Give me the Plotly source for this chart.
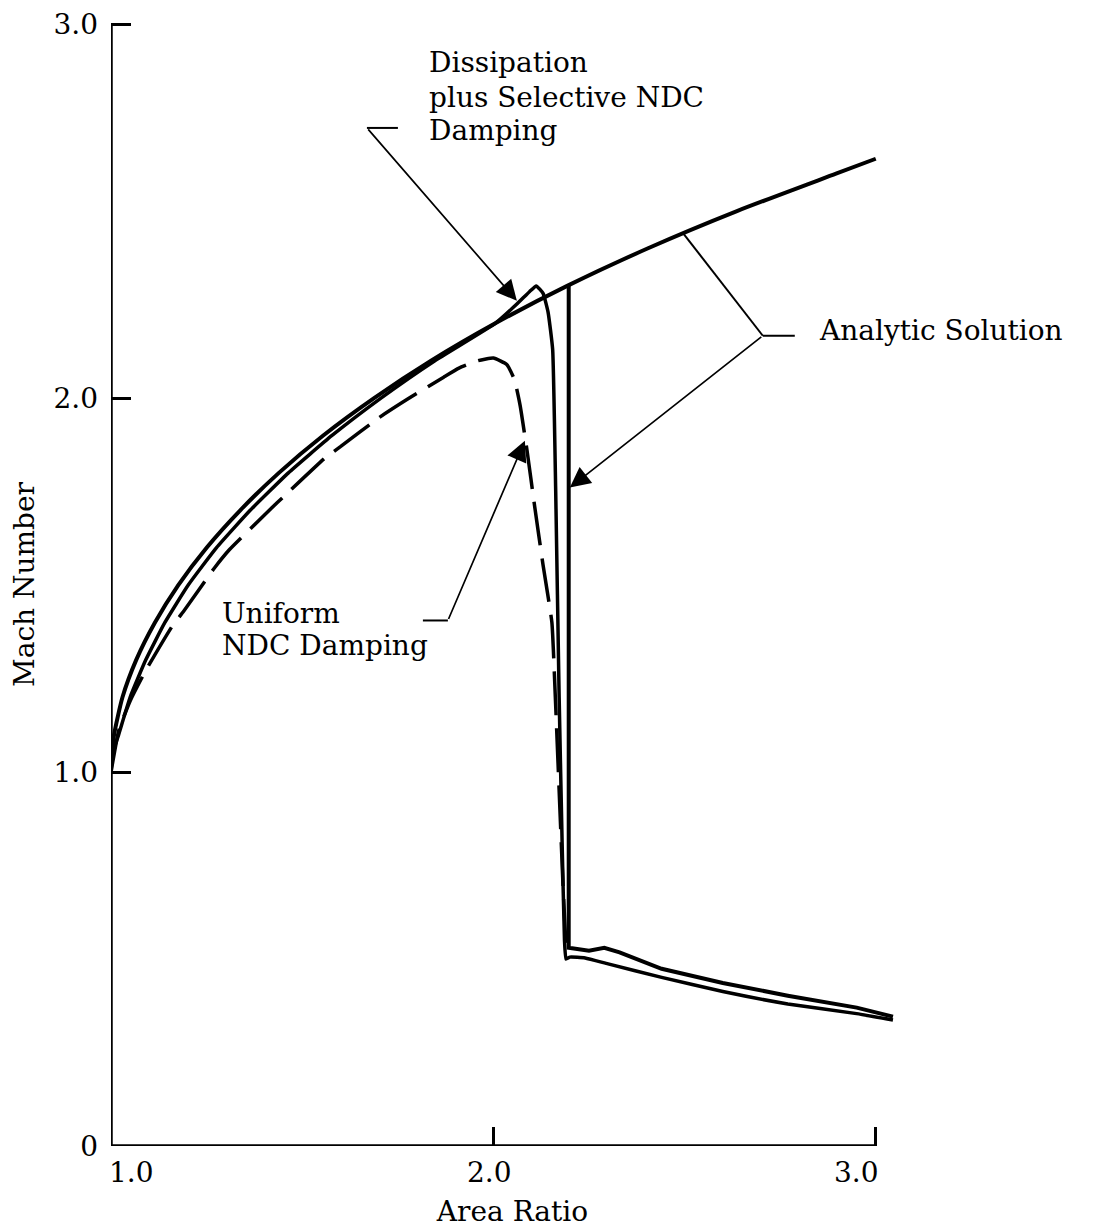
import plotly.graph_objects as go

# ---- data ----
# Analytic solution, supersonic branch
ana_x = [1.0, 1.002, 1.008, 1.03, 1.066, 1.115, 1.176, 1.25, 1.338, 1.439, 1.555, 1.688, 1.837, 2.005, 2.193, 2.403, 2.637, 2.896, 3.0]
ana_m = [1.0, 1.05, 1.1, 1.2, 1.3, 1.4, 1.5, 1.6, 1.7, 1.8, 1.9, 2.0, 2.1, 2.2, 2.3, 2.4, 2.5, 2.6, 2.64]

# Analytic solution, shock + subsonic branch
shk_x = [2.197, 2.197, 2.25, 2.29, 2.33, 2.44, 2.60, 2.77, 2.95, 3.045]
shk_m = [2.30, 0.53, 0.522, 0.53, 0.518, 0.474, 0.436, 0.402, 0.37, 0.346]

# Dissipation plus selective NDC damping
dis_x = [1.0, 1.004, 1.02, 1.05, 1.091, 1.141, 1.202, 1.276, 1.364, 1.464, 1.578, 1.706, 1.847, 2.005,
         2.06, 2.095, 2.112, 2.13, 2.143, 2.155, 2.163, 2.172, 2.18, 2.186, 2.19, 2.20, 2.24, 2.30,
         2.44, 2.60, 2.77, 2.95, 3.045]
dis_m = [1.0, 1.05, 1.1, 1.2, 1.3, 1.4, 1.5, 1.6, 1.7, 1.8, 1.9, 2.0, 2.1, 2.2,
         2.25, 2.285, 2.30, 2.28, 2.23, 2.13, 1.75, 1.20, 0.80, 0.55, 0.50, 0.505, 0.503, 0.487,
         0.451, 0.413, 0.380, 0.354, 0.337]

# Uniform NDC damping (dashed)
uni_x = [1.0, 1.02, 1.05, 1.09, 1.16, 1.19, 1.27, 1.31, 1.42, 1.45, 1.56, 1.60, 1.70, 1.78, 1.87,
         1.91, 1.96, 2.00, 2.035, 2.055, 2.07, 2.088, 2.108, 2.13, 2.153, 2.162, 2.172, 2.182, 2.19]
uni_m = [1.0, 1.11, 1.19, 1.27, 1.39, 1.43, 1.545, 1.595, 1.706, 1.735, 1.84, 1.87, 1.947, 2.0, 2.056,
         2.08, 2.10, 2.107, 2.09, 2.05, 1.98, 1.86, 1.71, 1.553, 1.40, 1.20, 0.95, 0.70, 0.53]

x_ticks = [1.0, 2.0, 3.0]
x_tick_text = ["1.0", "2.0", "3.0"]
y_ticks = [0, 1.0, 2.0, 3.0]
y_tick_text = ["0", "1.0", "2.0", "3.0"]

FONT = "DejaVu Serif"
FS = 28

fig = go.Figure()
fig.add_trace(go.Scatter(x=ana_x, y=ana_m, mode="lines",
                         line=dict(color="black", width=4, shape="spline", smoothing=0.6),
                         name="Analytic Solution", showlegend=False))
fig.add_trace(go.Scatter(x=shk_x, y=shk_m, mode="lines", line=dict(color="black", width=4),
                         name="Analytic Solution (shock)", showlegend=False))
fig.add_trace(go.Scatter(x=dis_x, y=dis_m, mode="lines",
                         line=dict(color="black", width=3.5, shape="spline", smoothing=0.4),
                         name="Dissipation plus Selective NDC Damping", showlegend=False))
fig.add_trace(go.Scatter(x=uni_x, y=uni_m, mode="lines",
                         line=dict(color="black", width=3.5, dash="44px,13px", shape="spline", smoothing=0.4),
                         name="Uniform NDC Damping", showlegend=False))

# axis lines (only up to 3.0)
fig.add_shape(type="line", xref="x", yref="y", x0=1.0, x1=1.0, y0=0, y1=3.0,
              line=dict(color="black", width=3.5))
fig.add_shape(type="line", xref="x", yref="y", x0=1.0, x1=3.0, y0=0, y1=0,
              line=dict(color="black", width=3.5))

def px2x(p):
    return 1.0 + (p - 111) / 382.5

def py2y(p):
    return (1146 - p) / 374.3

# x tick labels (placed as in the reference), paper-y below the axis
x_label_px = [132, 490, 857]
for t, p in zip(x_tick_text, x_label_px):
    fig.add_annotation(x=px2x(p), y=(1146 - 1172) / 1123.0, xref="x", yref="paper", text=t,
                       showarrow=False, xanchor="center", yanchor="middle",
                       font=dict(family=FONT, size=FS, color="black"))

# leader lines (horizontal stubs / plain lines)
lead = dict(color="black", width=2)
fig.add_shape(type="line", xref="x", yref="y", x0=px2x(367), x1=px2x(398), y0=py2y(127), y1=py2y(127), line=lead)
fig.add_shape(type="line", xref="x", yref="y", x0=px2x(763), x1=px2x(795), y0=py2y(335), y1=py2y(335), line=lead)
fig.add_shape(type="line", xref="x", yref="y", x0=px2x(763), x1=px2x(683), y0=py2y(335), y1=py2y(232), line=lead)
fig.add_shape(type="line", xref="x", yref="y", x0=px2x(423), x1=px2x(448), y0=py2y(620), y1=py2y(620), line=lead)

# arrows
def arrow(tx, ty, hx, hy):
    fig.add_annotation(x=px2x(hx), y=py2y(hy), ax=px2x(tx), ay=py2y(ty), xref="x", yref="y",
                       axref="x", ayref="y", text="", showarrow=True, arrowhead=2,
                       arrowsize=2.4, arrowwidth=1.7, arrowcolor="black", standoff=0)

arrow(367, 127, 517, 300)
arrow(763, 335, 570, 487)
arrow(448, 620, 525, 440)

# text labels
def label(txt, lx, cy):
    fig.add_annotation(x=px2x(lx), y=py2y(cy), xref="x", yref="y", text=txt, showarrow=False,
                       xanchor="left", yanchor="middle", font=dict(family=FONT, size=FS, color="black"))

label("Dissipation", 427, 62)
label("plus Selective NDC", 427, 97)
label("Damping", 427, 130)
label("Analytic Solution", 817, 330)
label("Uniform", 220, 613)
label("NDC Damping", 220, 645)

fig.update_layout(
    width=1096, height=1220,
    margin=dict(l=103, r=190, t=15, b=82, autoexpand=False),
    paper_bgcolor="white", plot_bgcolor="white",
    font=dict(family=FONT, size=FS, color="black"),
    showlegend=False,
    xaxis=dict(range=[1.0, 3.1], showgrid=False, zeroline=False, showline=False, automargin=False,
               tickvals=x_ticks, ticks="inside", ticklen=19, showticklabels=False,
               tickwidth=3, tickcolor="black",
               title=dict(text="Area Ratio", standoff=55, font=dict(family=FONT, size=FS))),
    yaxis=dict(range=[0, 3.003], showgrid=False, zeroline=False, showline=False, automargin=False,
               tickvals=y_ticks, ticktext=y_tick_text, ticks="inside", ticklen=20,
               tickwidth=3, tickcolor="black", ticklabelstandoff=12, ticklabeloverflow="allow",
               title=dict(text="Mach Number", standoff=14, font=dict(family=FONT, size=FS))),
)

fig.write_html("out.html")
